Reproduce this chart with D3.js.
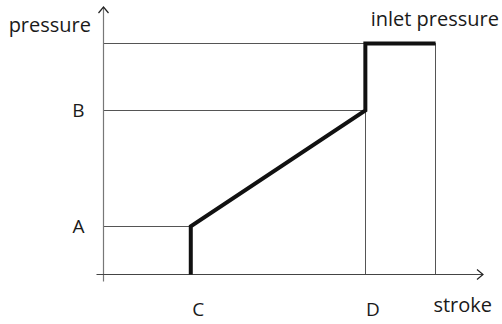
<!DOCTYPE html>
<html>
<head>
<meta charset="utf-8">
<script src="https://cdn.jsdelivr.net/npm/d3@7"></script>
<style>
  body { margin: 0; background: #fff; }
  text { font-family: "Open Sans", "Noto Sans", sans-serif; fill: #1a1a1a; }
</style>
</head>
<body>
<script>
var width = 502;
var height = 324;

// pressure levels (y) and stroke positions (x)
var levelLabels = ["A", "B"];
var levelValues = [1.8, 6.13];
var inletPressure = 8.64;

var strokeLabels = ["C", "D"];
var strokeValues = [2.3, 6.9];
var strokeEnd = 8.75;

// the pressure curve: stroke -> pressure
var curveStroke = [2.3, 2.3, 6.9, 6.9, 8.75];
var curvePressure = [0, 1.8, 6.13, 8.64, 8.64];

var svg = d3.select("body").append("svg")
    .attr("width", width)
    .attr("height", height);

var x = d3.scaleLinear().domain([0, 10]).range([103.5, 483]);
var y = d3.scaleLinear().domain([0, 10]).range([274.5, 7]);

var guideColor = "#555";

// guide lines
var hGuides = [
  { p: levelValues[0], s: strokeValues[0] },
  { p: levelValues[1], s: strokeValues[1] },
  { p: inletPressure, s: strokeEnd }
];
svg.selectAll("line.hguide")
  .data(hGuides)
.enter().append("line")
  .attr("class", "hguide")
  .attr("x1", x(0))
  .attr("x2", function(d) { return x(d.s); })
  .attr("y1", function(d) { return y(d.p); })
  .attr("y2", function(d) { return y(d.p); })
  .attr("stroke", guideColor)
  .attr("stroke-width", 1)
  .attr("shape-rendering", "crispEdges");

var vGuides = [
  { s: strokeValues[1], p: levelValues[1] },
  { s: strokeEnd, p: inletPressure }
];
svg.selectAll("line.vguide")
  .data(vGuides)
.enter().append("line")
  .attr("class", "vguide")
  .attr("x1", function(d) { return x(d.s); })
  .attr("x2", function(d) { return x(d.s); })
  .attr("y1", y(0))
  .attr("y2", function(d) { return y(d.p); })
  .attr("stroke", guideColor)
  .attr("stroke-width", 1)
  .attr("shape-rendering", "crispEdges");

// axes (plain lines with open arrow heads)
svg.append("line")
  .attr("x1", x(0)).attr("x2", x(0))
  .attr("y1", y(0) + 7).attr("y2", y(10))
  .attr("stroke", "#777").attr("stroke-width", 1.2);
svg.append("path")
  .attr("d", "M" + (x(0) - 5) + "," + (y(10) + 6) + "L" + x(0) + "," + y(10) + "L" + (x(0) + 5) + "," + (y(10) + 6))
  .attr("fill", "none").attr("stroke", "#222").attr("stroke-width", 1.2);

svg.append("line")
  .attr("x1", x(0) - 7).attr("x2", x(10))
  .attr("y1", y(0)).attr("y2", y(0))
  .attr("stroke", "#444").attr("stroke-width", 1.2);
svg.append("path")
  .attr("d", "M" + (x(10) - 6) + "," + (y(0) - 5) + "L" + x(10) + "," + y(0) + "L" + (x(10) - 6) + "," + (y(0) + 5))
  .attr("fill", "none").attr("stroke", "#222").attr("stroke-width", 1.2);

// level labels on the pressure axis
var yAxis = d3.axisLeft(y)
  .tickValues(levelValues)
  .tickSize(0)
  .tickPadding(19)
  .tickFormat(function(d, i) { return levelLabels[i]; });
var gy = svg.append("g").attr("transform", "translate(" + x(0) + ",0)").call(yAxis);
gy.select(".domain").remove();
gy.selectAll("text").style("font-family", null).attr("font-size", 19).attr("fill", "#1a1a1a");

// stroke labels
var xAxis = d3.axisBottom(x)
  .tickValues(strokeValues)
  .tickSize(0)
  .tickPadding(28)
  .tickFormat(function(d, i) { return strokeLabels[i]; });
var gx = svg.append("g").attr("transform", "translate(7," + y(0) + ")").call(xAxis);
gx.select(".domain").remove();
gx.selectAll("text").style("font-family", null).attr("font-size", 19).attr("fill", "#1a1a1a");

// the curve
var line = d3.line()
  .x(function(d) { return x(curveStroke[d]); })
  .y(function(d) { return y(curvePressure[d]); });
svg.append("path")
  .attr("d", line(d3.range(curveStroke.length)))
  .attr("fill", "none")
  .attr("stroke", "#111")
  .attr("stroke-width", 4)
  .attr("stroke-linejoin", "miter");

// axis titles
svg.append("text")
  .attr("x", 91).attr("y", 32)
  .attr("text-anchor", "end")
  .attr("font-size", 20)
  .text("pressure");
svg.append("text")
  .attr("x", 492).attr("y", 312)
  .attr("text-anchor", "end")
  .attr("font-size", 20)
  .text("stroke");
svg.append("text")
  .attr("x", 499).attr("y", 26)
  .attr("text-anchor", "end")
  .attr("font-size", 20)
  .text("inlet pressure");
</script>
</body>
</html>
